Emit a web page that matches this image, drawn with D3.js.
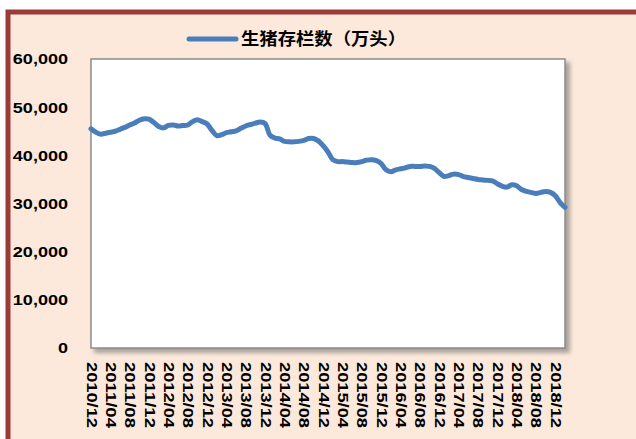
<!DOCTYPE html>
<html><head><meta charset="utf-8">
<script src="https://cdn.jsdelivr.net/npm/d3@7"></script>
<style>body{margin:0;background:#fff}svg{display:block}</style>
</head><body>
<svg id="c" width="636" height="439"></svg>
<script>
const seriesName = "生猪存栏数（万头）";
const startYear = 2010, startMonth = 12;
const values = [45500,44800,44400,44600,44800,45000,45400,45800,46300,46700,
47300,47600,47500,46800,46000,45700,46200,46300,46100,46200,
46300,47000,47400,47000,46500,45200,44100,44300,44700,44900,
45100,45600,46100,46400,46700,46900,46600,44200,43600,43400,
42900,42800,42800,42900,43100,43500,43500,43000,42000,40700,
39100,38700,38700,38600,38500,38500,38700,39000,39100,38900,
38300,37000,36600,37000,37200,37400,37700,37700,37700,37800,
37700,37300,36400,35600,35800,36100,36000,35600,35400,35200,
35000,34900,34800,34700,34100,33600,33400,33900,33700,32900,
32500,32300,32100,32300,32500,32300,31600,30200,29200];
const yTicks = [0,10000,20000,30000,40000,50000,60000];

const months = values.map((v,i)=>{
  const m0 = startMonth - 1 + i;
  const yr = startYear + Math.floor(m0/12);
  const m = (m0 % 12) + 1;
  return yr + "/" + (m < 10 ? "0" + m : String(m));
});
const labels = months.map((d,i)=> i%4===0 ? d : null);

const svg = d3.select("#c");
const defs = svg.append("defs");
const f = defs.append("filter").attr("id","sh").attr("x","-5%").attr("y","-5%").attr("width","115%").attr("height","115%");
f.append("feGaussianBlur").attr("stdDeviation",2);

// background frame
svg.append("rect").attr("x",8).attr("y",12).attr("width",700).attr("height",500)
  .attr("fill","#FCE9DB").attr("stroke","#9B3B38").attr("stroke-width",5);

const L=91, T=59, R=565, B=348;
const x = d3.scaleLinear().domain([0, values.length-1]).range([L, R]);
const y = d3.scaleLinear().domain([0,60000]).range([B, T]);

// plot shadow + area
svg.append("rect").attr("x",L+3).attr("y",T+3).attr("width",R-L+2).attr("height",B-T+2)
  .attr("fill","#8f8a86").attr("opacity",0.75).attr("filter","url(#sh)");
svg.append("rect").attr("x",L).attr("y",T).attr("width",R-L).attr("height",B-T)
  .attr("fill","#fff").attr("stroke","#8c8c8c").attr("stroke-width",1.5);

// y axis labels
const yAxis = d3.axisLeft(y).tickValues(yTicks).tickSize(0).tickPadding(0)
  .tickFormat(d3.format(","));
const ya = svg.append("g").attr("transform",`translate(${L-23},0)`).call(yAxis);
ya.select(".domain").remove();
ya.selectAll("text").attr("font-family","Arial, 'Liberation Sans', sans-serif")
  .attr("font-weight","bold").attr("font-size",14).attr("fill","#000")
  .attr("dy","0.35em")
  .each(function(d){ const s=d3.format(",")(d); d3.select(this).attr("textLength", s.length>1 ? s.length*9.2 : 10).attr("lengthAdjust","spacingAndGlyphs");});

// x axis labels
const xAxis = d3.axisBottom(x).tickValues(d3.range(0, values.length, 4)).tickSize(0).tickPadding(0)
  .tickFormat(i=>labels[i]);
const xa = svg.append("g").attr("transform",`translate(0,${B})`).call(xAxis);
xa.select(".domain").remove();
xa.selectAll("text")
  .attr("font-family","Arial, 'Liberation Sans', sans-serif")
  .attr("font-weight","bold").attr("font-size",14.5).attr("fill","#000")
  .attr("text-anchor","start").attr("dy",null).attr("y",0)
  .attr("transform","translate(-5,14) rotate(90)")
  .attr("textLength",66).attr("lengthAdjust","spacingAndGlyphs");

// line
const line = d3.line().x((d,i)=>x(i)).y(d=>y(d)).curve(d3.curveCatmullRom.alpha(0.5));
svg.append("path").datum(values).attr("d",line).attr("fill","none")
  .attr("stroke","#4A7EBB").attr("stroke-width",5).attr("stroke-linecap","round").attr("stroke-linejoin","round");

// legend
svg.append("line").attr("x1",189).attr("x2",236).attr("y1",39).attr("y2",39)
  .attr("stroke","#4A7EBB").attr("stroke-width",5).attr("stroke-linecap","round");
svg.append("text").attr("x",241).attr("y",45).text(seriesName)
  .attr("font-family","'Noto Sans CJK SC', sans-serif").attr("font-weight","bold")
  .attr("font-size",16.5).attr("fill","#000")
  .attr("textLength",165).attr("lengthAdjust","spacingAndGlyphs");
</script>
</body></html>
